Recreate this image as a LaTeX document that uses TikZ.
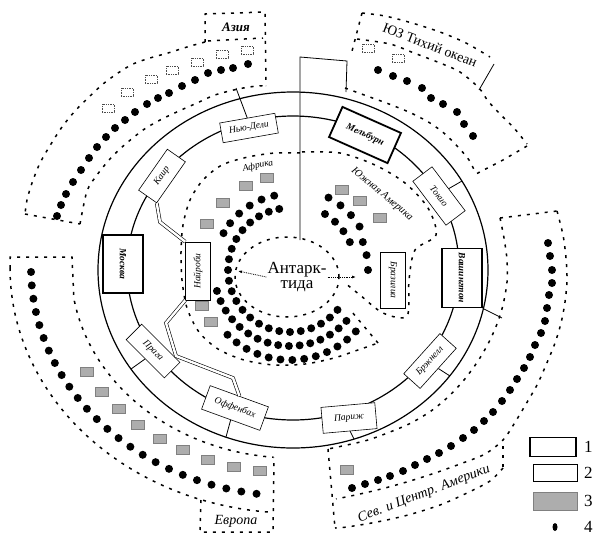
\documentclass[tikz,border=0pt]{standalone}
\usepackage{fontspec}
\setmainfont{Liberation Serif}
\usetikzlibrary{arrows.meta, shapes.geometric}

\tikzset{
    gts zone/.style={line width=1.5pt, dash pattern=on 3pt off 6pt},
    gts trunk/.style={line width=1.2pt},
    gts link/.style={line width=0.8pt},
    gts pair/.style={draw=black, line width=0.6pt, double=white,
                     double distance=2.4pt},
    gts box/.style={draw=black, fill=white, inner sep=1pt,
                    font=\fontsize{9.5}{10}\selectfont\itshape},
    gts main/.style={gts box, line width=1.8pt,
                     font=\fontsize{9.5}{10}\selectfont\itshape\bfseries},
    gts centre/.style={gts box, line width=0.6pt},
    gts station/.style={draw=black!70, densely dotted, line width=0.7pt,
                        minimum width=12pt, minimum height=8pt, inner sep=0pt},
    gts grey/.style={fill=black!32, draw=black!50, line width=0.3pt,
                     minimum width=13pt, minimum height=9pt, inner sep=0pt},
    gts region/.style={font=\fontsize{14}{15}\selectfont\itshape},
    gts sub/.style={font=\fontsize{9.5}{10}\selectfont\itshape},
    gts key/.style={anchor=west, inner sep=0pt,
                    font=\fontsize{17}{17}\selectfont},
    gts arrow/.style={densely dotted, line width=0.8pt,
                      -{Latex[length=4pt, width=3pt]}},
}

\begin{document}
\begin{tikzpicture}[x=1pt, y=-1pt]
    \useasboundingbox (0,0) rectangle (601,536);

    % Asia
    \draw[gts zone] (205,42) -- (205,14) -- (265,12) -- (266,86);
    \draw[gts zone] (208,41) -- (263,38);
    \draw[gts zone] plot[smooth] coordinates {(205,42) (187,47) (168,53)
        (150,58) (133,64) (118,73) (103,84) (89,97) (75,111) (62,127)
        (51,144) (40,163) (32,183) (27,200) (25,214)};
    \draw[gts zone] (25,214) -- (80,224);
    \draw[gts zone] plot[smooth] coordinates {(80,224) (87,191) (97,175)
        (109,160) (121,148) (134,137) (146,128) (162,119) (179,111)
        (197,103) (215,95) (238,89) (257,86) (266,86)};
    \node[font=\fontsize{13}{14}\selectfont\itshape\bfseries] (asia)
        at (236,27) {Азия};
    \foreach \x/\y [count=\i] in {247/50, 222/54, 197/62, 172/70, 151/79,
                                  127/92, 108/108}
        \node[gts station] (as-s\i) at (\x,\y) {};
    \foreach \x/\y in {248/64, 233/68, 221/70, 208/73, 195/80, 182/86,
                       169/93, 158/98, 147/104, 135/112, 125/120, 115/128,
                       106/137, 97/147, 89/158, 81/170, 73/182, 66/194,
                       61/205, 57/216}
        \fill (\x,\y) circle[radius=4pt];

    % SW Pacific
    \draw[gts zone] (362,13) -- (351,55);
    \draw[gts zone] plot[smooth] coordinates {(362,13) (385,16) (412,23)
        (440,32) (466,43) (490,57)};
    \draw[gts link] (494,64) -- (479,90);
    \draw[gts zone] plot[smooth] coordinates {(357,39) (390,44) (414,53)
        (440,63) (460,72) (479,88) (488,101) (501,115) (514,128) (527,144)};
    \draw[gts zone] (527,146) -- (503,160) -- (476,174);
    \draw[gts zone] plot[smooth] coordinates {(345,88) (367,96) (389,104)
        (411,113) (430,123) (445,134) (458,147) (469,160) (476,174)};
    \node[font=\fontsize{14}{15}\selectfont, rotate=-21] (swp)
        at (430,45) {ЮЗ Тихий океан};
    \foreach \x/\y [count=\i] in {368/48, 398/58}
        \node[gts station] (sw-s\i) at (\x,\y) {};
    \foreach \x/\y in {378/70, 393/76, 407/81, 422/88, 431/98, 443/104,
                       457/112, 464/124, 473/136}
        \fill (\x,\y) circle[radius=4pt];

    % North and Central America
    \draw[gts zone] (500,218) -- (557,211);
    \draw[gts zone] plot[smooth] coordinates {(557,211) (563,235) (566,258)
        (567,280) (565,302) (561,323) (555,343) (546,365) (537,385)
        (526,404) (514,424) (503,440) (485,454) (460,464) (435,473)
        (410,481) (385,488) (360,494) (336,499)};
    \draw[gts zone] plot[smooth] coordinates {(500,218) (504,238) (507,260)
        (507,282) (503,305) (497,324) (489,342) (478,361) (464,380)
        (448,397) (431,411) (411,423) (390,432) (368,440) (347,445)
        (328,449)};
    \draw[gts zone] (328,449) -- (335,528);
    \draw[gts zone] (503,446) -- (503,468);
    \draw[gts zone] plot[smooth] coordinates {(503,468) (490,481) (467,493)
        (440,505) (408,515) (377,522) (347,527) (335,528)};
    \node[gts region, rotate=21] (nam) at (424,494) {Сев. и Центр. Америки};
    \node[gts grey] (na-g1) at (347,470) {};
    \foreach \x/\y in {548/243, 550/256, 552/270, 552/283, 549/295, 547/308,
                       545/321, 541/333, 535/345, 530/357, 524/368, 517/379,
                       510/390, 502/401, 493/412, 484/421, 474/430, 463/438,
                       451/446, 439/453, 427/459, 415/465, 403/471, 390/476,
                       378/480, 365/484, 352/488}
        \fill (\x,\y) circle[radius=4pt];

    % Europe
    \draw[gts zone] (10,268) -- (10,257) -- (72,257) -- (74,301);
    \draw[gts zone] plot[domain=180:265.5, samples=40, variable=\t]
        ({293+283*cos(\t)},{268-245*sin(\t)});
    \draw[gts zone] plot[domain=190:265, samples=40, variable=\t]
        ({293+222*cos(\t)},{268-190*sin(\t)});
    \draw[gts zone] (201,500) -- (200,532) -- (273,532) -- (274,457);
    \node[gts region] (eur) at (236,521) {Европа};
    \foreach \i in {0,...,8}
        \node[gts grey] (eu-g\i)
            at ({293+240*cos(210.5+6.4375*\i)},{268-205*sin(210.5+6.4375*\i)}) {};
    \foreach \i in {0,...,24}
        \fill ({293+262*cos(181+3.375*\i)},{268-228*sin(181+3.375*\i)})
            circle[radius=4pt];

    % Africa
    \draw[gts zone] plot[smooth] coordinates {(300,153) (275,153) (248,157)
        (222,165) (203,180) (190,200) (183,225) (181,252) (182,280)
        (187,308) (199,332) (218,349) (244,360) (274,365) (305,364)
        (334,358) (358,350) (378,343)};
    \draw[gts zone] (378,343) -- (352,312);
    \node[gts sub, rotate=12] (afr) at (258,166) {Африка};
    \foreach \t [count=\i] in {104, 118, 135, 151, 202, 213}
        \node[gts grey] (af-g\i) at ({290+95*cos(\t)},{270-95*sin(\t)}) {};
    \foreach \i in {0,...,22}
        \fill ({290+62*cos(100+10*\i)},{270-62*sin(100+10*\i)})
            circle[radius=4pt];
    \foreach \t in {102, 112, 122, 132, 142, 151}
        \fill ({290+76*cos(\t)},{270-76*sin(\t)}) circle[radius=4pt];
    \foreach \i in {0,...,15}
        \fill ({290+76*cos(196+8.13*\i)},{270-76*sin(196+8.13*\i)})
            circle[radius=4pt];
    \foreach \i in {0,...,12}
        \fill ({290+90*cos(226+7.58*\i)},{270-90*sin(226+7.58*\i)})
            circle[radius=4pt];

    % South America
    \draw[gts zone] plot[smooth] coordinates {(302,152) (340,153) (375,165)
        (405,183) (428,208) (436,235) (415,250) (409,280) (407,316)
        (383,313) (360,295) (345,283)};
    \node[gts sub, font=\fontsize{10.5}{11}\selectfont\itshape, rotate=-40]
        (sam) at (382,194) {Южная Америка};
    \foreach \x/\y [count=\i] in {342/190, 360/201, 380/218}
        \node[gts grey] (sa-g\i) at (\x,\y) {};
    \foreach \t in {58, 47, 36, 25}
        \fill ({290+66*cos(\t)},{270-66*sin(\t)}) circle[radius=4pt];
    \foreach \t in {62, 52, 42, 32}
        \fill ({290+82*cos(\t)},{270-82*sin(\t)}) circle[radius=4pt];
    \foreach \t in {21, 11, 0}
        \fill ({290+78*cos(\t)},{270-78*sin(\t)}) circle[radius=4pt];

    % Antarctica
    \draw[gts zone] (287,277) ellipse [x radius=52pt, y radius=40pt];
    \node[font=\fontsize{17}{15}\selectfont, align=center, inner sep=1pt]
        (ant) at (297,277) {Антарк-\\тида};
    \coordinate (ant-l) at (238,271);
    \coordinate (ant-r) at (356,277);
    \draw[gts arrow] (ant.west) -- (ant-l);
    \draw[gts arrow] (ant.east) -- (ant-r);

    % sector divider
    \draw[gts link] (300,240) -- (300,57) -- (347,61) -- (346,92);

    % main trunk
    \draw[gts trunk] (293,270) ellipse [x radius=195pt, y radius=178pt];
    \draw[gts trunk] (293,268) ellipse [x radius=166pt, y radius=152pt];

    % centres
    \node[gts main, minimum width=58pt, minimum height=40pt, rotate=-90]
        (mos) at (123,264) {Москва};
    \node[gts centre, minimum width=56pt, minimum height=20pt, rotate=10]
        (ndl) at (249,128) {Нью-Дели};
    \node[gts centre, minimum width=50pt, minimum height=22pt, rotate=55]
        (cai) at (162,176) {Каир};
    \node[gts main, minimum width=64pt, minimum height=33pt, rotate=-24]
        (mel) at (365,135) {Мельбурн};
    \node[gts centre, minimum width=55pt, minimum height=24pt, rotate=-53]
        (tok) at (439,196) {Токио};
    \node[gts main, minimum width=59pt, minimum height=40pt, rotate=-90]
        (was) at (462,278) {Вашингтон};
    \node[gts centre, minimum width=54pt, minimum height=22pt, rotate=48]
        (brk) at (430,361) {Брэкнелл};
    \node[gts centre, minimum width=54pt, minimum height=26pt, rotate=5]
        (par) at (349,418) {Париж};
    \node[gts centre, minimum width=62pt, minimum height=25pt, rotate=-20]
        (off) at (235,408) {Оффенбах};
    \node[gts centre, minimum width=54pt, minimum height=22pt, rotate=-45]
        (pra) at (153,351) {Прага};
    \node[gts centre, minimum width=58pt, minimum height=25pt, rotate=90]
        (nai) at (198,271) {Найроби};
    \node[gts centre, minimum width=56pt, minimum height=25pt, rotate=-90]
        (brs) at (393,280) {Бразилиа};

    % links off the trunk
    \coordinate (o-pra) at (131,369);
    \coordinate (o-off) at (226,437);
    \coordinate (o-par) at (354,439);
    \coordinate (o-brk) at (450,376);
    \coordinate (o-tok) at (462,181);
    \coordinate (a-ndl) at (236,88);
    \coordinate (n-was) at (502,318);
    \draw[gts link] (pra.south) -- (o-pra);
    \draw[gts link] (off.south) -- (o-off);
    \draw[gts link] (par.south) -- (o-par);
    \draw[gts link] (brk.south) -- (o-brk);
    \draw[gts link] (tok.north) -- (o-tok);
    \draw[gts link] (ndl.north) -- (a-ndl);
    \draw[gts link] (was.north east) -- (n-was);
    \draw[gts pair] (cai.south west) -- (160,222) -- (nai.north east);
    \draw[gts pair] (nai.north west) -- (166,323) -- (176,356) -- (233,378)
        -- (off.north);

    % legend
    \node[draw, line width=1.8pt, minimum width=46pt, minimum height=19pt]
        (key1) at (553,447) {};
    \node[draw, line width=0.6pt, minimum width=44pt, minimum height=17pt]
        (key2) at (555,473) {};
    \node[gts grey, minimum width=44pt, minimum height=18pt]
        (key3) at (555,501) {};
    \node[fill, ellipse, inner sep=0pt, minimum width=5pt, minimum height=8pt]
        (key4) at (555,527) {};
    \node[gts key] (key1t) at (584,447) {1};
    \node[gts key] (key2t) at (584,473) {2};
    \node[gts key] (key3t) at (584,501) {3};
    \node[gts key] (key4t) at (584,527) {4};
\end{tikzpicture}
\end{document}
